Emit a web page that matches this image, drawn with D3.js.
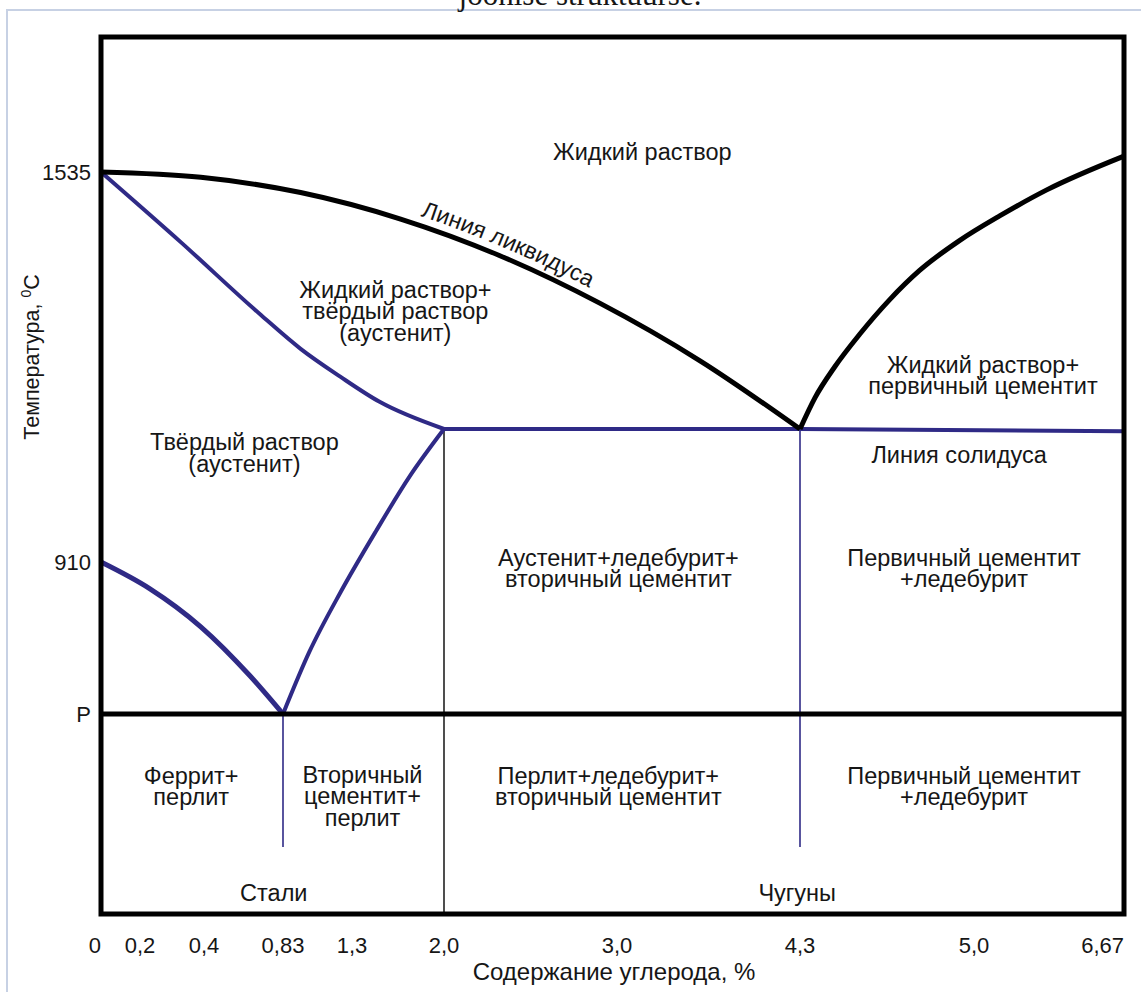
<!DOCTYPE html>
<html>
<head>
<meta charset="utf-8">
<script src="https://cdn.jsdelivr.net/npm/d3@7"></script>
<style>
  body { margin: 0; background: #fff; }
  text { font-family: "Liberation Sans", Arial, sans-serif; fill: #161616; }
</style>
</head>
<body>
<div id="chart"></div>
<script>
// значения диаграммы: [углерод %, температура °C]
const xTicks = [0, 0.2, 0.4, 0.83, 1.3, 2.0, 3.0, 4.3, 5.0, 6.67];
const xTickLabels = ['0', '0,2', '0,4', '0,83', '1,3', '2,0', '3,0', '4,3', '5,0', '6,67'];
const yKeyTemps = [727, 910, 1147, 1535];
const yTicks = [1535, 910, 727];
const yTickLabels = ['1535', '910', 'P'];

const liquidusAC = [[0, 1535], [0.39, 1527], [0.95, 1504], [1.67, 1464], [2.32, 1409], [2.90, 1337], [3.59, 1250], [4.3, 1147]];
const liquidusCD = [[4.3, 1147], [4.36, 1194], [4.44, 1241], [4.54, 1290], [4.66, 1342], [4.78, 1386], [4.94, 1431], [5.29, 1469], [5.81, 1508], [6.67, 1559]];
const solidusAE = [[0, 1535], [0.33, 1428], [0.71, 1319], [0.95, 1268], [1.22, 1226], [1.51, 1188], [2.0, 1147]];
const eutecticECF = [[2.0, 1147], [4.3, 1147], [6.67, 1143]];
const lineGS = [[0, 910], [0.23, 878], [0.39, 832], [0.65, 773], [0.83, 727]];
const lineSE = [[0.83, 727], [1.01, 802], [1.22, 873], [1.48, 964], [1.74, 1063], [2.0, 1147]];
const linePSK = [[0, 727], [6.67, 727]];
const dividers = [[0.83, 727, 567], [2.0, 1147, null], [4.3, 1147, 567]];

const regionNames = [
  ['Жидкий раствор'],
  ['Жидкий раствор+', 'твёрдый раствор', '(аустенит)'],
  ['Твёрдый раствор', '(аустенит)'],
  ['Жидкий раствор+', 'первичный цементит'],
  ['Линия солидуса'],
  ['Аустенит+ледебурит+', 'вторичный цементит'],
  ['Первичный цементит', '+ледебурит'],
  ['Феррит+', 'перлит'],
  ['Вторичный', 'цементит+', 'перлит'],
  ['Перлит+ледебурит+', 'вторичный цементит'],
  ['Первичный цементит', '+ледебурит'],
  ['Стали'],
  ['Чугуны']
];
const regionC = [3.18, 1.63, 0.62, 5.1, 4.94, 3.01, 4.96, 0.36, 1.38, 2.95, 4.96, 0.78, 4.28];
const regionT = [1565, 1325, 1104, 1228, 1101, 902, 902, 640, 628, 640, 640, 511, 511];

const liquidusLabel = 'Линия ликвидуса';
const liquidusLabelC = 2.34;

const width = 1141;
const height = 992;
const margin = { left: 101, top: 37, right: 17, bottom: 78 };
const plotW = width - margin.left - margin.right;
const plotH = height - margin.top - margin.bottom;

const BLUE = '#2f2a86';
const BLACK = '#000';

const svg = d3.select('#chart').append('svg')
  .attr('width', width)
  .attr('height', height);

// рамка страницы и обрезанная подпись сверху
svg.append('path')
  .attr('d', `M7,${height} V10 H${width}`)
  .attr('fill', 'none')
  .attr('stroke', '#c7d1e4')
  .attr('stroke-width', 2);

svg.append('text')
  .attr('x', 580)
  .attr('y', 5)
  .attr('text-anchor', 'middle')
  .style('font-family', '"Liberation Serif", serif')
  .style('font-size', '31px')
  .text('joonise struktuurse.');

const group = svg.append('g')
  .attr('transform', `translate(${margin.left}, ${margin.top})`);

// схематичные (неравномерные) шкалы
const x = d3.scaleLinear()
  .domain(xTicks)
  .range([0, 39, 103, 182, 251, 343, 516, 699, 873, plotW]);

const y = d3.scaleLinear()
  .domain(yKeyTemps)
  .range([677, 525, 392, 135]);

const curve = d3.line()
  .x(d => x(d[0]))
  .y(d => y(d[1]))
  .curve(d3.curveMonotoneX);

const straight = d3.line()
  .x(d => x(d[0]))
  .y(d => y(d[1]));

// тонкие вертикали
dividers.forEach(d => {
  group.append('line')
    .attr('x1', x(d[0]))
    .attr('x2', x(d[0]))
    .attr('y1', y(d[1]))
    .attr('y2', d[2] === null ? plotH : y(d[2]))
    .attr('stroke', d[0] === 2.0 ? '#222' : BLUE)
    .attr('stroke-width', 1.6);
});

function drawLine(data, gen, color, w) {
  return group.append('path')
    .attr('d', gen(data))
    .attr('fill', 'none')
    .attr('stroke', color)
    .attr('stroke-width', w)
    .attr('stroke-linejoin', 'round');
}

drawLine(solidusAE, curve, BLUE, 4);
drawLine(lineGS, curve, BLUE, 5);
drawLine(lineSE, curve, BLUE, 4);
drawLine(eutecticECF, straight, BLUE, 4);
drawLine(linePSK, straight, BLACK, 5);
const liq = drawLine(liquidusAC, curve, BLACK, 5).attr('id', 'liquidus');
drawLine(liquidusCD, curve, BLACK, 5);

// подпись вдоль линии ликвидуса
const liqNode = liq.node();
const total = liqNode.getTotalLength();
const targetX = x(liquidusLabelC);
let lo = 0, hi = total;
for (let k = 0; k < 40; k++) {
  const mid = (lo + hi) / 2;
  if (liqNode.getPointAtLength(mid).x < targetX) lo = mid; else hi = mid;
}
group.append('text')
  .attr('dy', -9)
  .style('font-size', '23px')
  .append('textPath')
  .attr('href', '#liquidus')
  .attr('startOffset', lo)
  .attr('text-anchor', 'middle')
  .text(liquidusLabel);

// рамка графика
group.append('rect')
  .attr('width', plotW)
  .attr('height', plotH)
  .attr('fill', 'none')
  .attr('stroke', BLACK)
  .attr('stroke-width', 5);

// надписи областей
const lh = 21.5;
regionNames.forEach((lines, i) => {
  const t = group.append('text')
    .attr('text-anchor', 'middle')
    .attr('dominant-baseline', 'central')
    .style('font-size', '23.5px');
  const y0 = y(regionT[i]) - (lines.length - 1) * lh / 2;
  lines.forEach((s, j) => {
    t.append('tspan')
      .attr('x', x(regionC[i]))
      .attr('y', y0 + j * lh)
      .text(s);
  });
});

// подписи осей
group.selectAll('.xlab')
  .data(xTicks)
  .enter()
  .append('text')
  .attr('class', 'xlab')
  .attr('x', d => x(d))
  .attr('y', plotH + 39)
  .attr('text-anchor', (d, i) => (i === 0 || i === xTicks.length - 1) ? 'end' : 'middle')
  .style('font-size', '22px')
  .text((d, i) => xTickLabels[i]);

group.selectAll('.ylab')
  .data(yTicks)
  .enter()
  .append('text')
  .attr('class', 'ylab')
  .attr('x', -10)
  .attr('y', d => y(d))
  .attr('dy', '0.36em')
  .attr('text-anchor', 'end')
  .style('font-size', '22px')
  .text((d, i) => yTickLabels[i]);

svg.append('text')
  .attr('x', 614)
  .attr('y', 980)
  .attr('text-anchor', 'middle')
  .style('font-size', '24px')
  .text('Содержание углерода, %');

const yTitle = svg.append('text')
  .attr('transform', 'translate(39, 357) rotate(-90)')
  .attr('text-anchor', 'middle')
  .style('font-size', '21.5px');
yTitle.append('tspan').text('Температура, ');
yTitle.append('tspan').attr('dy', -8).style('font-size', '14px').text('0');
yTitle.append('tspan').attr('dy', 8).text('С');
</script>
</body>
</html>
